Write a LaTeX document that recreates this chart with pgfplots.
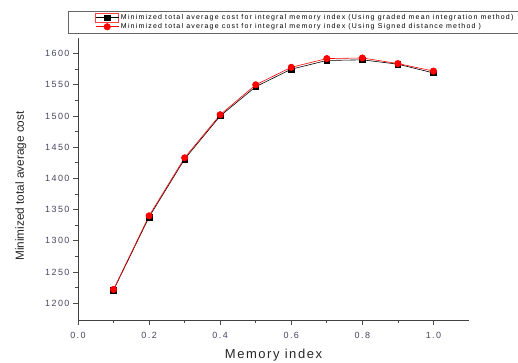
\documentclass[border=0pt]{standalone}
\usepackage{pgfplots}
\pgfplotsset{compat=1.18}
\usepackage{fontspec}
\setmainfont{Liberation Sans}
\newfontfamily\tickfont[LetterSpace=16]{Liberation Sans}
\newfontfamily\legfont[LetterSpace=17]{Liberation Sans}
\newfontfamily\xlabfont[LetterSpace=12]{Liberation Sans}
\definecolor{ticktext}{RGB}{70,70,95}
\begin{document}
\begin{tikzpicture}
\useasboundingbox (-78pt,-43pt) rectangle (440pt,320pt);
\begin{axis}[
  at={(0pt,0pt)}, anchor=south west,
  scale only axis, width=391pt, height=282pt,
  xmin=0, xmax=1.1, ymin=1173, ymax=1625,
  axis lines=left,
  axis line style={-, draw=black!75, line width=0.8pt},
  xtick={0,0.2,...,1.0},
  minor xtick={0.1,0.3,...,0.9},
  ytick={1200,1250,...,1600},
  minor ytick={1225,1275,...,1575},
  tick align=outside,
  major tick length=5pt, minor tick length=3pt,
  tick style={draw=black!70, line width=0.7pt},
  xticklabel style={/pgf/number format/fixed,/pgf/number format/fixed zerofill,/pgf/number format/precision=1, font=\tickfont\fontsize{9}{10}\selectfont, text=ticktext, yshift=-4pt},
  yticklabel style={/pgf/number format/1000 sep={}, font=\tickfont\fontsize{9}{10}\selectfont, text=ticktext},
  /pgf/number format/assume math mode=true,
  xlabel={Memory index},
  ylabel={Minimized total average cost},
  xlabel style={font=\xlabfont\fontsize{13}{15}\selectfont, text=black!85, yshift=-3pt},
  ylabel style={font=\fontsize{11.8}{13}\selectfont, text=black!85, yshift=12pt, xshift=-7pt},
  legend style={at={(-0.0256,1.0957)}, anchor=north west, font=\legfont\fontsize{7}{8}\selectfont, draw=black!60, line width=0.8pt, inner xsep=27pt, inner ysep=1pt, row sep=-1.5pt, cells={anchor=west}},
  legend cell align=left,
]
\addplot[black, line width=0.6pt, mark=square*, mark size=2.8pt, mark options={fill=black},
  legend image code/.code={
    \draw[red!75, line width=0.5pt, mark=none] (0pt,-4.5pt) rectangle (23pt,4.5pt);
    \draw[mark repeat=2,mark phase=2] plot coordinates {(0pt,0pt) (11.5pt,0pt) (23pt,0pt)};}] coordinates {
(0.1,1221) (0.2,1338) (0.3,1431) (0.4,1500) (0.5,1547) (0.6,1575) (0.7,1589) (0.8,1590) (0.9,1583) (1.0,1569)};
\addlegendentry{Minimized total average cost for integral memory index (Using graded mean integration method)}
\addplot[red, line width=0.6pt, mark=*, mark size=3.2pt, mark options={fill=red},
  legend image code/.code={
    \draw[mark repeat=2,mark phase=2] plot coordinates {(0pt,0pt) (11.5pt,0pt) (23pt,0pt)};}] coordinates {
(0.1,1222) (0.2,1340) (0.3,1433) (0.4,1502) (0.5,1550) (0.6,1578) (0.7,1592) (0.8,1593) (0.9,1584) (1.0,1572)};
\addlegendentry{Minimized total average cost for integral memory index (Using Signed distance method )}
\end{axis}
\end{tikzpicture}
\end{document}
